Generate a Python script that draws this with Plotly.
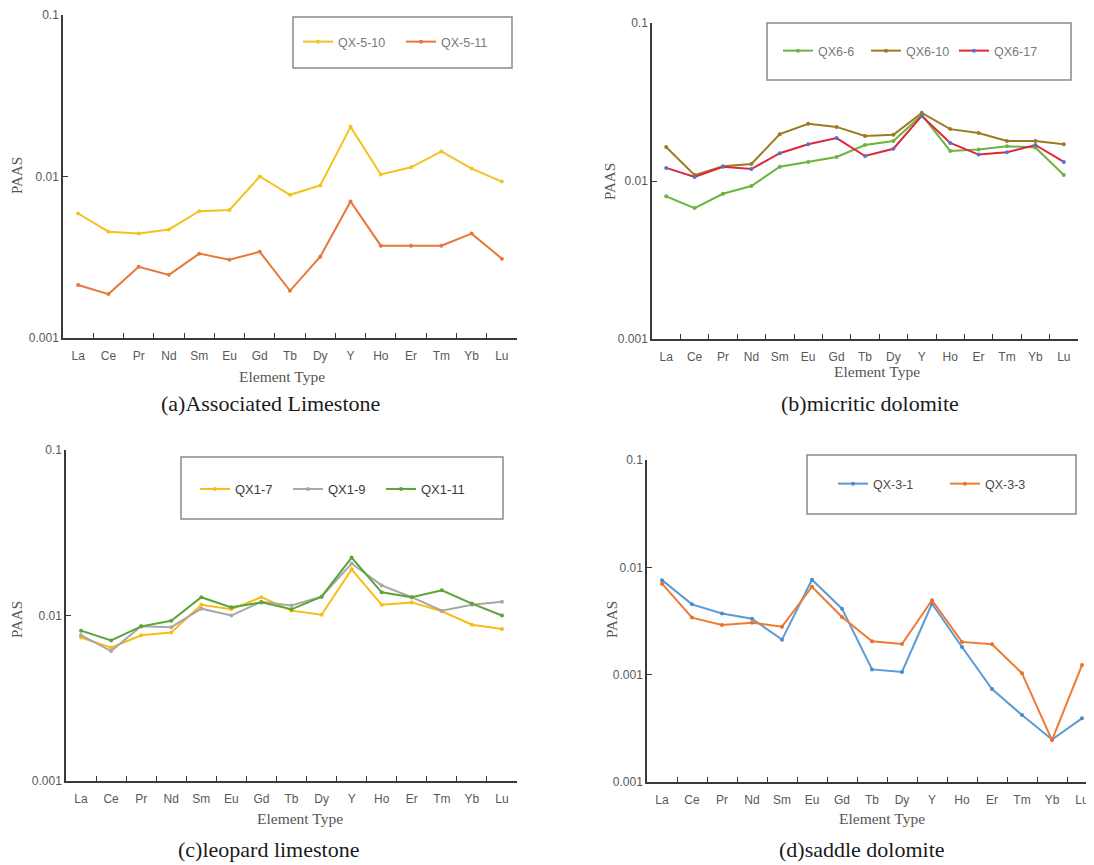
import plotly.graph_objects as go

# The page body has an 8px default margin, so the figure is drawn 8px in and
# everything below is laid out in page pixels minus that offset.
PAGE_W, PAGE_H = 1094, 865
OFF = 8
W, H = PAGE_W - OFF, PAGE_H - OFF

elements = ["La", "Ce", "Pr", "Nd", "Sm", "Eu", "Gd", "Tb", "Dy", "Y", "Ho", "Er", "Tm", "Yb", "Lu"]

# (a) Associated Limestone
qx5_10 = [0.0059, 0.00455, 0.00443, 0.0047, 0.0061, 0.0062, 0.0100, 0.0077, 0.0088, 0.0203, 0.0103, 0.0114, 0.0143, 0.0112, 0.0093]
qx5_11 = [0.00213, 0.00187, 0.00276, 0.00246, 0.00333, 0.00305, 0.00342, 0.00196, 0.00319, 0.0070, 0.00373, 0.00373, 0.00373, 0.00443, 0.0031]

# (b) micritic dolomite
qx6_6 = [0.0080, 0.00674, 0.0083, 0.0093, 0.0123, 0.0132, 0.0142, 0.0169, 0.0179, 0.0262, 0.0155, 0.0158, 0.0166, 0.0163, 0.0109]
qx6_10 = [0.0164, 0.0109, 0.0124, 0.0128, 0.0198, 0.0230, 0.0220, 0.0193, 0.0196, 0.0270, 0.0213, 0.0201, 0.0179, 0.0179, 0.0171]
qx6_17 = [0.0121, 0.0106, 0.0123, 0.0119, 0.0150, 0.0171, 0.0187, 0.0144, 0.0160, 0.0258, 0.0174, 0.0147, 0.0152, 0.0169, 0.0132]

# (c) leopard limestone
qx1_7 = [0.00736, 0.0064, 0.0076, 0.0079, 0.0116, 0.0109, 0.0129, 0.0107, 0.0101, 0.0190, 0.0116, 0.0120, 0.0106, 0.0088, 0.0083]
qx1_9 = [0.0076, 0.0061, 0.0086, 0.0085, 0.0110, 0.0100, 0.0121, 0.0115, 0.0130, 0.0206, 0.0152, 0.0129, 0.0107, 0.0116, 0.0121]
qx1_11 = [0.0081, 0.00706, 0.0086, 0.0093, 0.0129, 0.0112, 0.0120, 0.0109, 0.0130, 0.0224, 0.0138, 0.0129, 0.0142, 0.0118, 0.0100]

# (d) saddle dolomite
qx3_1 = [0.0076, 0.00452, 0.00372, 0.00332, 0.00212, 0.00767, 0.00412, 0.00112, 0.00106, 0.00458, 0.00181, 0.000735, 0.00042, 0.000249, 0.000392]
qx3_3 = [0.00705, 0.0034, 0.0029, 0.00305, 0.0028, 0.0066, 0.00345, 0.00205, 0.00193, 0.00493, 0.00202, 0.00192, 0.00103, 0.000246, 0.00123]

ytick_vals_abc = [0.001, 0.01, 0.1]
ytick_text_abc = ["0.001", "0.01", "0.1"]
ytick_vals_d = [0.0001, 0.001, 0.01, 0.1]
ytick_text_d = ["0.001", "0.001", "0.01", "0.1"]

subtitles = ["(a)Associated Limestone", "(b)micritic dolomite", "(c)leopard limestone", "(d)saddle dolomite"]


def px_x(p):
    return (p - OFF) / W


def px_y(p):
    return 1 - (p - OFF) / H


fig = go.Figure()

series = [
    # (name, values, line color, marker color, panel index)
    ("QX-5-10", qx5_10, "#F4C21F", "#F4C21F", 1),
    ("QX-5-11", qx5_11, "#E8773A", "#E8773A", 1),
    ("QX6-6", qx6_6, "#6CB33F", "#6CB33F", 2),
    ("QX6-10", qx6_10, "#9C7A1E", "#9C7A1E", 2),
    ("QX6-17", qx6_17, "#E0263C", "#4A78CC", 2),
    ("QX1-7", qx1_7, "#F9BC15", "#F9BC15", 3),
    ("QX1-9", qx1_9, "#A8A8A8", "#A8A8A8", 3),
    ("QX1-11", qx1_11, "#5DA338", "#5DA338", 3),
    ("QX-3-1", qx3_1, "#5B9BD5", "#4A8BC9", 4),
    ("QX-3-3", qx3_3, "#EE7B33", "#E8702A", 4),
]

for name, vals, lc, mc, k in series:
    sfx = "" if k == 1 else str(k)
    fig.add_trace(go.Scatter(
        x=elements, y=vals, name=name, mode="lines+markers",
        line=dict(color=lc, width=2),
        marker=dict(color=mc, size=4),
        xaxis="x" + sfx, yaxis="y" + sfx,
        legend="legend" + sfx,
    ))

# panel geometry in page pixels: (x0, x1, y0, y1)
panels = {
    1: (63, 517, 15, 338),
    2: (652, 1078, 23, 339),
    3: (66, 517, 450, 781),
    4: (647, 1094, 460, 782),
}

tick_font = dict(family="Liberation Sans, Arial, sans-serif", size=12, color="#595959")
axis_color = "#3a3a3a"

layout = dict(
    width=W, height=H,
    margin=dict(l=0, r=0, t=0, b=0, autoexpand=False),
    paper_bgcolor="white", plot_bgcolor="white",
    showlegend=True,
)

for k, (x0, x1, y0, y1) in panels.items():
    sfx = "" if k == 1 else str(k)
    xr = [-0.5, 14.4] if k == 4 else [-0.5, 14.5]
    layout["xaxis" + sfx] = dict(
        domain=[px_x(x0), min(1.0, px_x(x1))], anchor="y" + sfx,
        type="category", categoryorder="array", categoryarray=elements,
        range=xr, tickson="boundaries", ticks="inside", ticklen=5,
        tickcolor=axis_color, tickwidth=1.2,
        showline=True, linecolor=axis_color, linewidth=1.5,
        showgrid=False, zeroline=False, tickfont=tick_font,
        ticklabelstandoff=6, automargin=False,
    )
    if k == 4:
        yr, tv, tt = [-4, -1], ytick_vals_d, ytick_text_d
    else:
        yr, tv, tt = [-3, -1], ytick_vals_abc, ytick_text_abc
    layout["yaxis" + sfx] = dict(
        domain=[px_y(y1), px_y(y0)], anchor="x" + sfx,
        type="log", range=yr, tickvals=tv, ticktext=tt,
        ticks="inside", ticklen=5, tickcolor=axis_color, tickwidth=1.2,
        showline=True, linecolor=axis_color, linewidth=1.5,
        showgrid=False, zeroline=False, tickfont=tick_font,
        automargin=False,
    )

# legend boxes (page pixels) and legend positions
legend_boxes = {
    1: (293, 512, 17, 68),
    2: (767, 1071, 23, 80),
    3: (181, 503, 457, 519),
    4: (807, 1076, 455, 514),
}
legend_pos = {
    # (legend left x, center y, entrywidth)
    1: (298, 42, 58),
    2: (778, 51, 43),
    3: (195, 489, 48),
    4: (833, 484, 67),
}
legend_font_sizes = {1: 12.5, 2: 12.5, 3: 13, 4: 12.5}
legend_font_colors = {1: "#7a7a7a", 2: "#7a7a7a", 3: "#3c3c3c", 4: "#4a4a4a"}

shapes = []
for k, (bx0, bx1, by0, by1) in legend_boxes.items():
    shapes.append(dict(
        type="rect", xref="paper", yref="paper",
        x0=px_x(bx0), x1=px_x(bx1), y0=px_y(by1), y1=px_y(by0),
        line=dict(color="#8a8a8a", width=1.5), fillcolor="rgba(0,0,0,0)",
    ))
    lx, ly, ew = legend_pos[k]
    sfx = "" if k == 1 else str(k)
    layout["legend" + sfx] = dict(
        x=px_x(lx), y=px_y(ly), xanchor="left", yanchor="middle",
        orientation="h", bgcolor="rgba(0,0,0,0)", borderwidth=0,
        entrywidth=ew, entrywidthmode="pixels", itemwidth=30,
        font=dict(family="Liberation Sans, Arial, sans-serif", size=legend_font_sizes[k],
                  color=legend_font_colors[k]),
    )
layout["shapes"] = shapes

annotations = []
serif = "Liberation Serif, Times New Roman, serif"
# x-axis titles
for (xc, yc) in [(282, 377), (877, 371), (300, 818), (882, 818)]:
    annotations.append(dict(
        text="Element Type", x=px_x(xc), y=px_y(yc), xref="paper", yref="paper",
        showarrow=False, xanchor="center", yanchor="middle",
        font=dict(family=serif, size=15.5, color="#555555"),
    ))
# y-axis titles
for (xc, yc) in [(17, 176), (610, 182), (17, 620), (612, 620)]:
    annotations.append(dict(
        text="PAAS", x=px_x(xc), y=px_y(yc), xref="paper", yref="paper",
        showarrow=False, xanchor="center", yanchor="middle", textangle=-90,
        font=dict(family=serif, size=15, color="#555555"),
    ))
# subtitles
for txt, (xc, yc) in zip(subtitles, [(270, 404), (870, 404), (268, 849), (862, 849)]):
    annotations.append(dict(
        text=txt, x=px_x(xc), y=px_y(yc), xref="paper", yref="paper",
        showarrow=False, xanchor="center", yanchor="middle",
        font=dict(family=serif, size=22, color="#1a1a1a"),
    ))
layout["annotations"] = annotations

fig.update_layout(**layout)
fig.write_html("out.html")
